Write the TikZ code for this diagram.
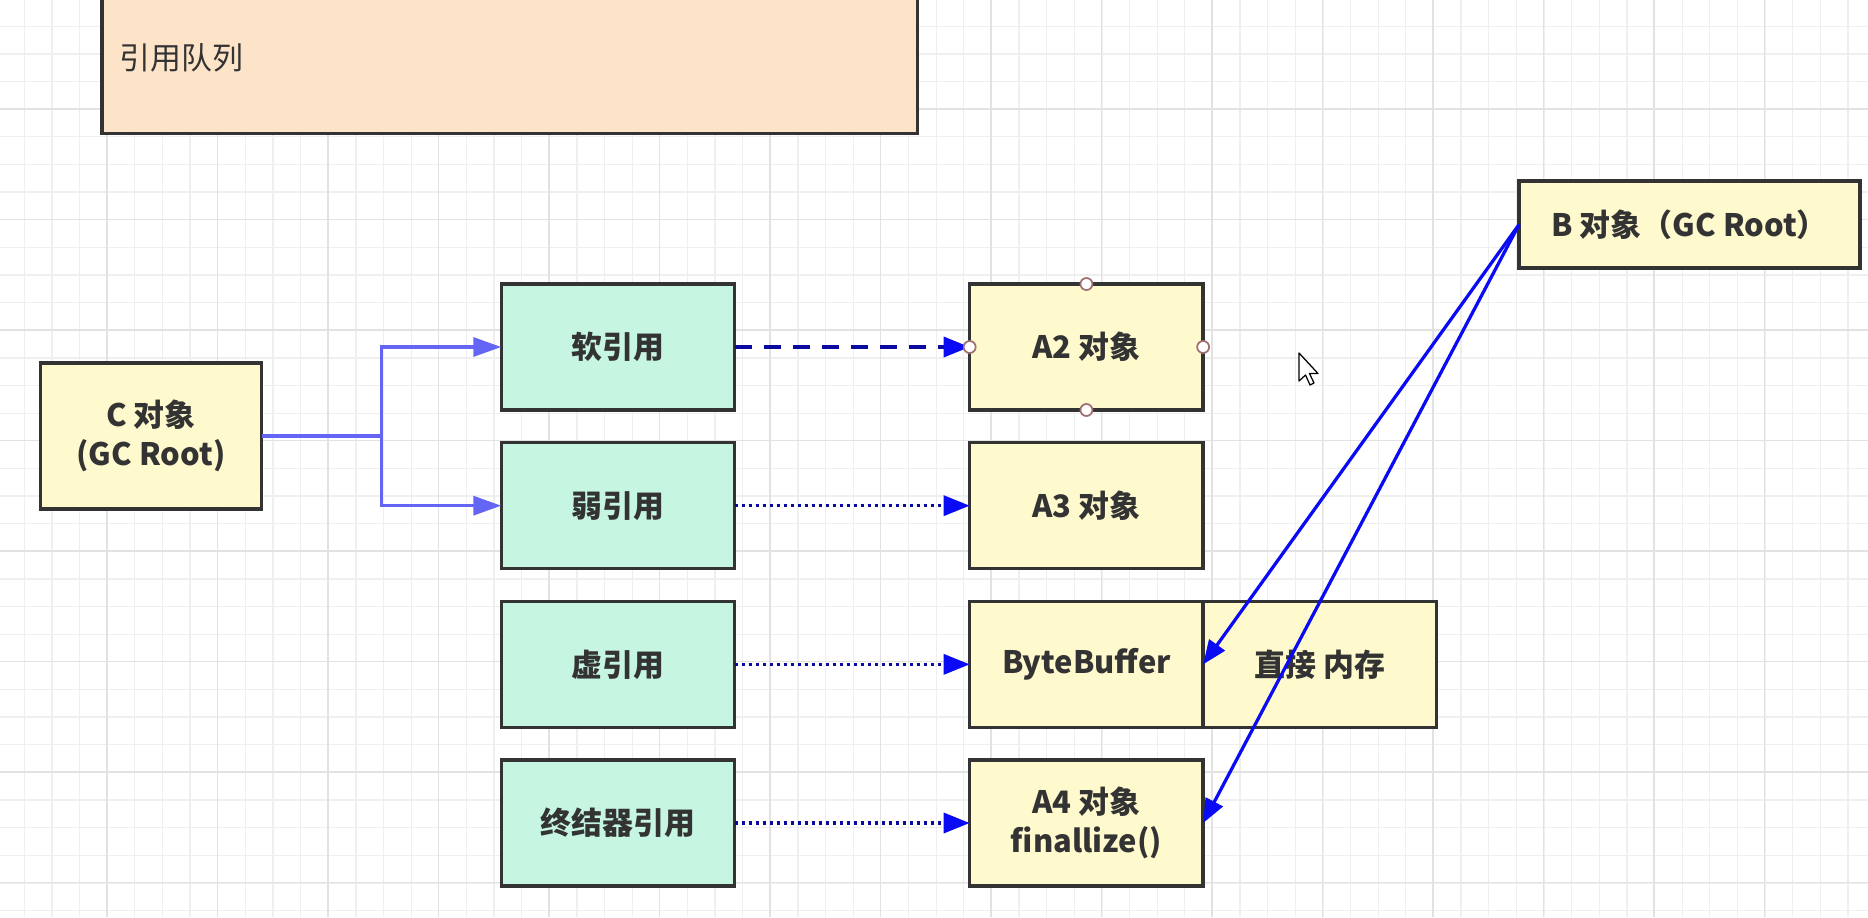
\documentclass[tikz,border=0pt]{standalone}
\usepackage{fontspec}
\setmainfont{Noto Sans CJK SC}
\usetikzlibrary{arrows.meta, positioning, calc}
\definecolor{refgreen}{HTML}{C6F5E2}
\definecolor{objyellow}{HTML}{FFFACD}
\definecolor{queuepeach}{HTML}{FDE4C9}
\definecolor{boxline}{HTML}{333333}
\definecolor{linkblue}{HTML}{6464F5}
\definecolor{navyline}{HTML}{0A0AA0}
\definecolor{headblue}{HTML}{0A0AF5}
\definecolor{gridminor}{HTML}{EFEFEF}
\definecolor{gridmajor}{HTML}{E2E2E2}
\definecolor{handlebrown}{HTML}{A07070}

\begin{document}
\begin{tikzpicture}[
    x=0.02cm, y=-0.02cm,
    node distance=0.654cm and 4.7cm,
    box/.style={draw=boxline, line width=0.07cm, outer sep=0pt, text=boxline, font=\fontsize{17.6}{22}\selectfont\bfseries, align=center, minimum width=4.67cm, minimum height=2.52cm},
    refbox/.style={box, fill=refgreen},
    objbox/.style={box, fill=objyellow},
    rootbox/.style={box, fill=objyellow},
    queuebox/.style={draw=boxline, line width=0.07cm, fill=queuepeach, text=boxline, font=\fontsize{17.6}{22}\selectfont, align=left, inner xsep=0.36cm, text width=15.6cm, minimum height=3.04cm},
    branch/.style={draw=linkblue, line width=0.065cm, -{Triangle[length=0.56cm, width=0.38cm]}},
    softlink/.style={draw=navyline, line width=0.07cm, dash pattern=on 0.34cm off 0.24cm, -{Triangle[length=0.52cm, width=0.4cm, color=headblue]}},
    weaklink/.style={draw=navyline, line width=0.065cm, dash pattern=on 0.065cm off 0.075cm, -{Triangle[length=0.52cm, width=0.4cm, color=headblue]}},
    rootlink/.style={draw=headblue, line width=0.065cm, -{Triangle[length=0.48cm, width=0.38cm]}},
    handle/.style={draw=handlebrown, fill=white, line width=0.035cm},
]

% Page and grid
\useasboundingbox (0,0) rectangle (1868,917);
\clip (0,0) rectangle (1868,917);
\fill[white] (0,0) rectangle (1868,917);
\foreach \i in {0,...,68} {
  \draw[gridminor, line width=0.025cm] ({-3.3+27.63*\i},0) -- ({-3.3+27.63*\i},917);
}
\foreach \i in {0,...,33} {
  \draw[gridminor, line width=0.025cm] (0,{-1.3+27.63*\i}) -- (1868,{-1.3+27.63*\i});
}
\foreach \i in {0,...,17} {
  \draw[gridmajor, line width=0.03cm] ({-3.3+110.5*\i},0) -- ({-3.3+110.5*\i},917);
}
\foreach \i in {0,...,8} {
  \draw[gridmajor, line width=0.03cm] (0,{-1.3+110.5*\i}) -- (1868,{-1.3+110.5*\i});
}

% Queue
\node[queuebox, anchor=north west] (queue) at (100,-20) {引用队列};

% Roots
\node[rootbox, minimum width=4.43cm, minimum height=2.92cm] (c) at (151,436) {C 对象\\(GC Root)};
\node[rootbox, minimum width=6.82cm, minimum height=1.74cm] (b) at (1689.5,224.5) {B 对象（GC Root）};

% References
\node[refbox] (soft) at (618,347) {软引用};
\node[refbox, below=of soft] (weak) {弱引用};
\node[refbox, below=of weak] (phantom) {虚引用};
\node[refbox, below=of phantom] (final) {终结器引用};

% Objects
\node[objbox, right=of soft] (a2) {A2 对象};
\node[objbox, right=of weak] (a3) {A3 对象};
\node[objbox, right=of phantom] (bb) {ByteBuffer};
\node[objbox, right=0pt of bb] (mem) {直接 内存};
\node[objbox, right=of final] (a4) {A4 对象\\finallize()};

% Edges
\coordinate (split) at ($(c.east)!0.5!(soft.west)$);
\draw[branch] (c.east) -- (split |- c.east) |- (soft.west);
\draw[branch] (c.east) -- (split |- c.east) |- (weak.west);
\draw[softlink] (soft) -- (a2);
\draw[weaklink] (weak) -- (a3);
\draw[weaklink] (phantom) -- (bb);
\draw[weaklink] (final) -- (a4);
\draw[rootlink] (b.west) -- (bb.east);
\draw[rootlink] (b.west) -- (a4.east);

% Selection handles
\foreach \a in {north, south, east, west} {
  \draw[handle] (a2.\a) circle[radius=0.12cm];
}

% Cursor
\draw[black, fill=white, line width=0.025cm, line join=round] (1299,353) -- ++(0,28) -- ++(6.5,-6) -- ++(4.5,10) -- ++(4,-2) -- ++(-4.5,-9.5) -- ++(8.5,0) -- cycle;

\end{tikzpicture}
\end{document}
